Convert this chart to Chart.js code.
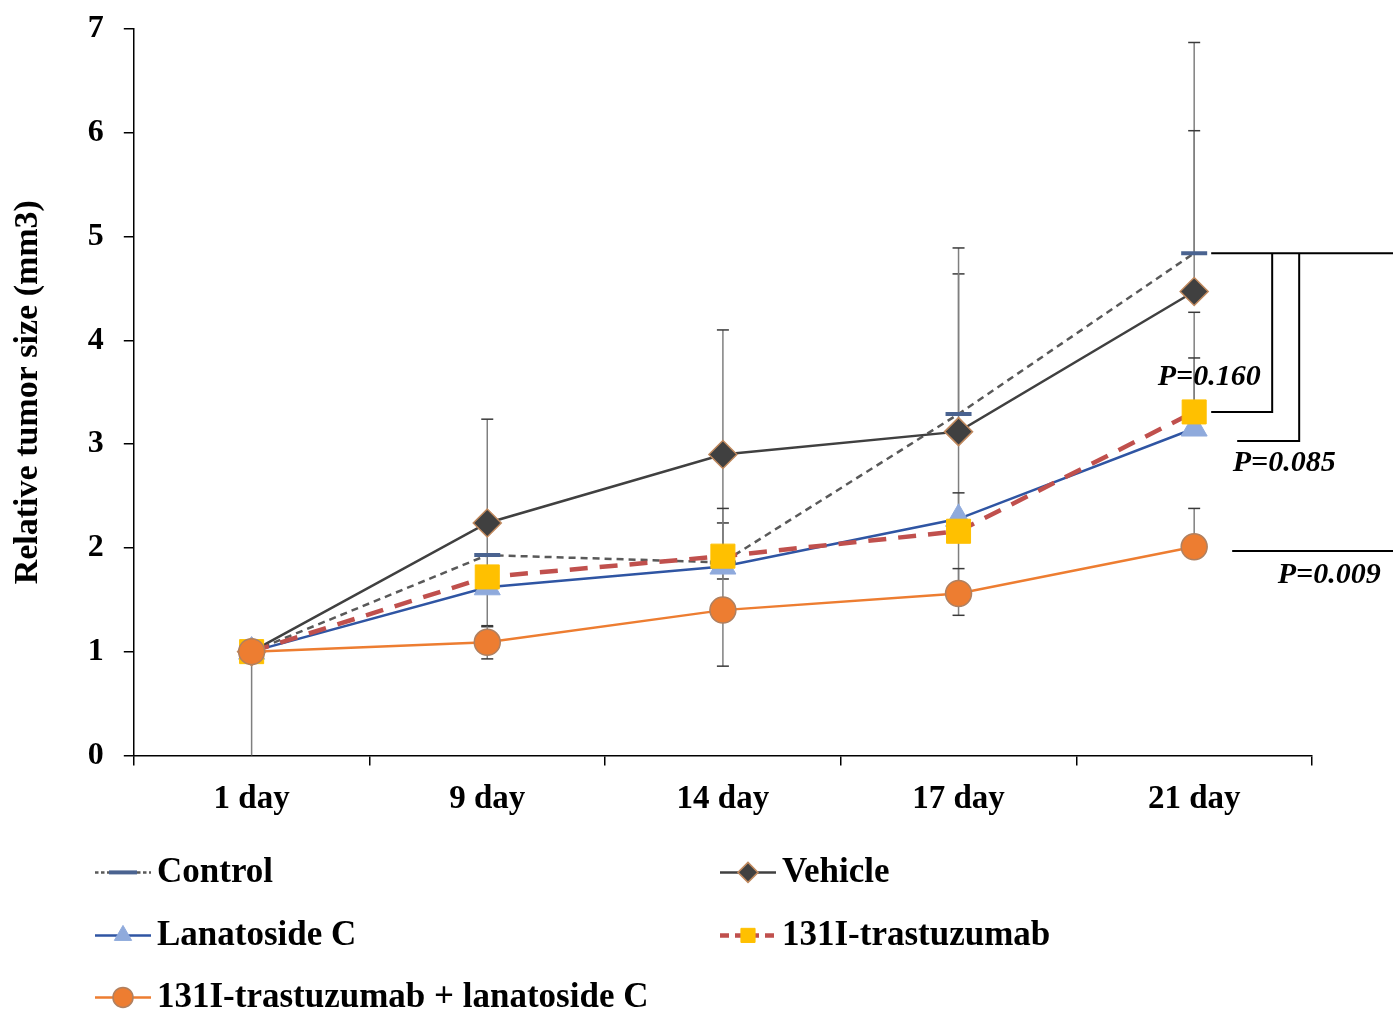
<!DOCTYPE html>
<html>
<head>
<meta charset="utf-8">
<script src="https://cdn.jsdelivr.net/npm/chart.js@4/dist/chart.umd.min.js"></script>
<style>
  html, body { margin: 0; padding: 0; background: #fff; }
  #wrap { width: 1393px; height: 1011px; }
</style>
</head>
<body>
<div id="wrap"><canvas id="myChart"></canvas></div>
<script>
const labels = ["1 day", "9 day", "14 day", "17 day", "21 day"];

const control = [1.0, 1.93, 1.86, 3.29, 4.84];
const vehicle = [1.0, 2.24, 2.9, 3.12, 4.47];
const lanatoside = [1.0, 1.62, 1.82, 2.28, 3.15];
const trastuzumab = [1.0, 1.72, 1.92, 2.16, 3.31];
const combo = [1.0, 1.09, 1.4, 1.56, 2.01];

// error bar lengths, up and down
const controlErrUp = [0, 0, 0, 1.35, 2.03];
const controlErrDown = [1.0, 0, 0, 0, 0];
const vehicleErrUp = [0, 1.0, 1.2, 1.77, 1.55];
const vehicleErrDown = [0, 1.0, 1.2, 1.77, 0];
const lanatosideErrUp = [0, 0.12, 0.42, 0.25, 1.12];
const lanatosideErrDown = [0, 0, 0, 0, 0];
const trastuzumabErrUp = [0, 0.1, 0.46, 0.1, 0.52];
const trastuzumabErrDown = [0, 0, 0, 0, 0];
const comboErrUp = [0, 0.16, 0.54, 0.24, 0.37];
const comboErrDown = [0, 0.16, 0.54, 0, 0];

// p values at 21 day: label, top level, bottom level
const pLabels = ["P=0.160", "P=0.085", "P=0.009"];
const pTop = [4.84, 4.84, 1.97];
const pBottom = [3.31, 3.03, 1.97];

const serif = "'Liberation Serif', 'Times New Roman', serif";

const data = {
  labels: labels,
  datasets: [
    {
      label: "Control",
      data: control,
      errUp: controlErrUp,
      errDown: controlErrDown,
      borderColor: "#595959",
      borderWidth: 2.5,
      borderDash: [7, 5],
      pointStyle: "line",
      pointRadius: 13,
      pointBorderColor: "#4a6390",
      pointBackgroundColor: "#4a6390",
      pointBorderWidth: 4,
      order: 5,
    },
    {
      label: "Vehicle",
      data: vehicle,
      errUp: vehicleErrUp,
      errDown: vehicleErrDown,
      borderColor: "#404040",
      borderWidth: 2.5,
      pointStyle: "rectRot",
      pointRadius: 14,
      pointBackgroundColor: "#404040",
      pointBorderColor: "#c0895e",
      pointBorderWidth: 1.5,
      order: 4,
    },
    {
      label: "Lanatoside C",
      data: lanatoside,
      errUp: lanatosideErrUp,
      errDown: lanatosideErrDown,
      borderColor: "#2f55a3",
      borderWidth: 2.5,
      pointStyle: "triangle",
      pointRadius: 15,
      pointBackgroundColor: "#8faadc",
      pointBorderColor: "#8faadc",
      pointBorderWidth: 1,
      order: 3,
    },
    {
      label: "131I-trastuzumab",
      data: trastuzumab,
      errUp: trastuzumabErrUp,
      errDown: trastuzumabErrDown,
      borderColor: "#c0504d",
      borderWidth: 4.5,
      borderDash: [18, 12],
      pointStyle: "rect",
      pointRadius: 17,
      pointBackgroundColor: "#ffc000",
      pointBorderColor: "#ffc000",
      pointBorderWidth: 1,
      order: 2,
    },
    {
      label: "131I-trastuzumab + lanatoside C",
      data: combo,
      errUp: comboErrUp,
      errDown: comboErrDown,
      borderColor: "#ed7d31",
      borderWidth: 2.5,
      pointStyle: "circle",
      pointRadius: 13,
      pointBackgroundColor: "#ed7d31",
      pointBorderColor: "#b08060",
      pointBorderWidth: 1.5,
      order: 1,
    },
  ],
};

const errorBars = {
  id: "errorBars",
  beforeDatasetsDraw(chart) {
    const ctx = chart.ctx;
    const xs = chart.scales.x;
    const ys = chart.scales.y;
    ctx.save();
    chart.data.datasets.forEach((ds) => {
      ds.data.forEach((v, i) => {
        const x = xs.getPixelForValue(i);
        const top = ys.getPixelForValue(v + ds.errUp[i]);
        const bot = ys.getPixelForValue(v - ds.errDown[i]);
        if (top === bot) return;
        ctx.strokeStyle = "#7f7f7f";
        ctx.lineWidth = 1.5;
        ctx.beginPath();
        ctx.moveTo(x, top);
        ctx.lineTo(x, bot);
        ctx.stroke();
        ctx.strokeStyle = "#3a3a3a";
        if (ds.errUp[i] > 0) {
          ctx.beginPath();
          ctx.moveTo(x - 6, top);
          ctx.lineTo(x + 6, top);
          ctx.stroke();
        }
        if (ds.errDown[i] > 0 && v - ds.errDown[i] > 0) {
          ctx.beginPath();
          ctx.moveTo(x - 6, bot);
          ctx.lineTo(x + 6, bot);
          ctx.stroke();
        }
      });
    });
    ctx.restore();
  },
};

const annotations = {
  id: "annotations",
  afterDraw(chart) {
    const ctx = chart.ctx;
    const xs = chart.scales.x;
    const ys = chart.scales.y;
    const x0 = xs.getPixelForValue(labels.length - 1);
    const W = chart.width;
    ctx.save();
    ctx.strokeStyle = "#000";
    ctx.lineWidth = 2;
    ctx.setLineDash([]);

    // p-value brackets
    const yTop = ys.getPixelForValue(pTop[0]);
    ctx.beginPath();
    ctx.moveTo(x0 + 17, yTop);
    ctx.lineTo(W, yTop);
    // P=0.160
    ctx.moveTo(x0 + 78, yTop);
    ctx.lineTo(x0 + 78, ys.getPixelForValue(pBottom[0]));
    ctx.lineTo(x0 + 17, ys.getPixelForValue(pBottom[0]));
    // P=0.085
    ctx.moveTo(x0 + 105, ys.getPixelForValue(pTop[1]));
    ctx.lineTo(x0 + 105, ys.getPixelForValue(pBottom[1]));
    ctx.lineTo(x0 + 43, ys.getPixelForValue(pBottom[1]));
    // P=0.009
    ctx.moveTo(x0 + 38, ys.getPixelForValue(pBottom[2]));
    ctx.lineTo(W, ys.getPixelForValue(pBottom[2]));
    ctx.stroke();

    ctx.fillStyle = "#000";
    ctx.font = "italic bold 30px " + serif;
    ctx.textAlign = "center";
    ctx.textBaseline = "middle";
    ctx.fillText(pLabels[0], x0 + 15, ys.getPixelForValue(pBottom[0]) - 35);
    ctx.fillText(pLabels[1], x0 + 90, ys.getPixelForValue(pBottom[1]) + 22);
    ctx.fillText(pLabels[2], x0 + 135, ys.getPixelForValue(pBottom[2]) + 24);

    // legend, two columns
    const area = chart.chartArea;
    const rows = [117, 180, 242];
    const cols = [95, 720];
    chart.data.datasets.forEach((ds, i) => {
      const lx = cols[i % 2];
      const ly = area.bottom + rows[Math.floor(i / 2)];
      ctx.strokeStyle = ds.borderColor;
      ctx.lineWidth = ds.borderWidth;
      ctx.setLineDash(ds.borderDash ? ds.borderDash.map((d) => d / 2) : []);
      ctx.beginPath();
      ctx.moveTo(lx, ly);
      ctx.lineTo(lx + 56, ly);
      ctx.stroke();
      ctx.setLineDash([]);
      ctx.fillStyle = ds.pointBackgroundColor;
      ctx.strokeStyle = ds.pointBorderColor;
      ctx.lineWidth = ds.pointBorderWidth;
      Chart.helpers.drawPoint(
        ctx,
        { pointStyle: ds.pointStyle, radius: ds.pointStyle === "line" ? 14 : 10, borderWidth: ds.pointBorderWidth, rotation: 0 },
        lx + 28,
        ly
      );
      ctx.fillStyle = "#000";
      ctx.font = "bold 35px " + serif;
      ctx.textAlign = "left";
      ctx.textBaseline = "middle";
      ctx.fillText(ds.label, lx + 62, ly + 1);
    });
    ctx.restore();
  },
};

const config = {
  type: "line",
  data: data,
  options: {
    responsive: true,
    maintainAspectRatio: false,
    animation: false,
    layout: {
      padding: { left: 8, right: 81, top: 29, bottom: 178 },
    },
    elements: {
      line: { tension: 0 },
    },
    plugins: {
      legend: { display: false },
      tooltip: { enabled: false },
    },
    scales: {
      x: {
        offset: true,
        grid: {
          offset: true,
          drawOnChartArea: false,
          drawTicks: true,
          tickLength: 10,
          color: "#000",
          lineWidth: 1.5,
        },
        border: { color: "#000", width: 1.5 },
        ticks: {
          color: "#000",
          padding: 14,
          font: { family: serif, size: 33, weight: "bold" },
        },
      },
      y: {
        min: 0,
        max: 7,
        grid: {
          drawOnChartArea: false,
          drawTicks: true,
          tickLength: 10,
          color: "#000",
          lineWidth: 1.5,
        },
        border: { color: "#000", width: 1.5 },
        ticks: {
          stepSize: 1,
          color: "#000",
          padding: 20,
          font: { family: serif, size: 32, weight: "bold", lineHeight: 0.5 },
        },
        title: {
          display: true,
          text: "Relative tumor size (mm3)",
          color: "#000",
          padding: { top: 0, bottom: 19 },
          font: { family: serif, size: 34, weight: "bold" },
        },
      },
    },
  },
  plugins: [errorBars, annotations],
};

const myChart = new Chart(document.getElementById("myChart"), config);
</script>
</body>
</html>
